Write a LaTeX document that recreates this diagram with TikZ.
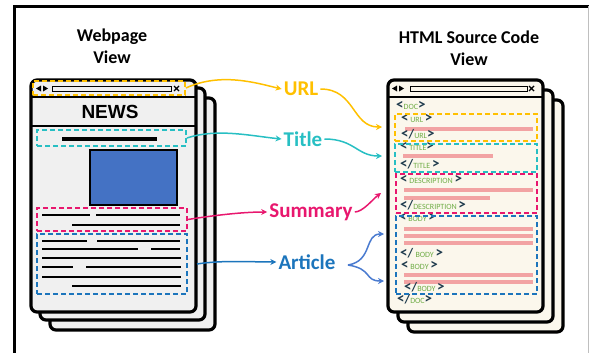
\documentclass[tikz,border=0pt]{standalone}
\usepackage{fontspec}
\setmainfont{Carlito}
\newfontfamily\newsfont{Liberation Sans}
\usetikzlibrary{arrows.meta}

\definecolor{urlgold}{HTML}{FFC000}
\definecolor{titleteal}{HTML}{27BFC3}
\definecolor{sumpink}{HTML}{E8176E}
\definecolor{artblue}{HTML}{1C75BC}
\definecolor{branchblue}{HTML}{4A7BD0}
\definecolor{imgblue}{HTML}{4472C4}
\definecolor{pagegrey}{HTML}{F0F0F0}
\definecolor{codecream}{HTML}{FBF7EC}
\definecolor{codebar}{HTML}{F2A3A3}
\definecolor{tagdark}{HTML}{1F3B4D}
\definecolor{taggreen}{HTML}{70AD47}

% pieces of a source-code tag
\newcommand{\chevL}{{\fontsize{15}{15}\selectfont\bfseries\color{tagdark}<}}
\newcommand{\chevR}{{\fontsize{15}{15}\selectfont\bfseries\color{tagdark}>}}
\newcommand{\chevS}{{\fontsize{13}{13}\selectfont\bfseries\color{tagdark}/}}
\newcommand{\tagname}[1]{{\fontsize{8}{8}\selectfont\color{taggreen}#1}}

\begin{document}
\begin{tikzpicture}[x=1pt, y=-1pt]
    \tikzstyle{page} = [draw=black, line width=3.2, rounded corners=6, fill=pagegrey, minimum width=165, minimum height=232]
    \tikzstyle{codepage} = [page, fill=codecream, minimum width=155]
    \tikzstyle{frame} = [draw, dash pattern=on 5pt off 3pt, line width=1.8, inner sep=0]
    \tikzstyle{heading} = [align=center, font=\fontsize{18}{22}\selectfont\bfseries]
    \tikzstyle{field} = [font=\fontsize{21}{21}\selectfont\bfseries, inner sep=2]
    \tikzstyle{tag} = [anchor=west, inner sep=0, text height=4.5, text depth=0.5]
    \tikzstyle{link} = [line width=1.5, -{Stealth[length=6pt, width=6pt]}]
    \tikzstyle{codeline} = [codebar, line width=4]

    \useasboundingbox (0,0) rectangle (589,353);

    % outer frame
    \draw[line width=3.5] (14.5,353) -- (14.5,6.5) -- (589,6.5);
    \draw[gray!50, line width=1] (588,6.5) -- (588,353);

    \node [heading] (webhead) at (112,46) {Webpage\\View};
    \node [heading] (codehead) at (469,48) {HTML Source Code\\View};

    % webpage stack
    \node [page] (webpage3) at (132.5,214) {};
    \node [page] (webpage2) at (122.5,204) {};
    \node [page] (webpage) at (113.5,196) {};

    \fill (36,88.5) -- (41,85.5) -- (41,91.5) -- cycle;
    \fill (48,88.5) -- (43,85.5) -- (43,91.5) -- cycle;
    \draw[line width=0.8] (52,86) rectangle (171,91.5);
    \draw[line width=1.4] (174,86) -- (179,91) (174,91) -- (179,86);
    \draw[line width=2.5] (31,97) -- (196,97);

    \node [font=\newsfont\fontsize{19}{19}\selectfont\bfseries] (news) at (110,111.5) {NEWS};
    \draw[line width=2.5] (31,126) -- (196,126);

    \draw[line width=4] (62,138.5) -- (157,138.5);
    \draw[fill=imgblue, line width=2] (90,150) rectangle (177,205);

    \draw[line width=2.5] (42,215) -- (90,215) (96,215) -- (180,215) (72,225) -- (180,225);
    \draw[line width=1.2] (42,241) -- (87,241) (97,241) -- (180,241)
        (42,249) -- (138,249) (151,249) -- (180,249)
        (42,258) -- (181,258)
        (42,267) -- (73,267) (86,267) -- (181,267)
        (42,277) -- (181,277)
        (72,286) -- (181,286);

    \node [frame, urlgold, minimum width=152, minimum height=14] (urlbox) at (109,88) {};
    \node [frame, titleteal, minimum width=149, minimum height=16] (titlebox) at (111.5,138) {};
    \node [frame, sumpink, minimum width=150, minimum height=23] (sumbox) at (112,219.5) {};
    \node [frame, artblue, minimum width=150, minimum height=60] (artbox) at (112,264) {};

    % source code stack
    \node [codepage] (codepage3) at (485.5,216) {};
    \node [codepage] (codepage2) at (475.5,206) {};
    \node [codepage] (codepage) at (465.5,196) {};

    \fill (392,88.5) -- (397,85.5) -- (397,91.5) -- cycle;
    \fill (404,88.5) -- (399,85.5) -- (399,91.5) -- cycle;
    \draw[line width=0.8] (410,86) rectangle (527,91.5);
    \draw[line width=1.4] (529,86) -- (534,91) (529,91) -- (534,86);
    \draw[line width=2.5] (388,97) -- (543,97);

    \node [tag] (docopen) at (396,108) {\chevL\tagname{DOC}\chevR};
    \node [tag] (urlopen) at (401,120) {\chevL\,\tagname{URL}\,\chevR};
    \draw[codeline] (405,128.5) -- (533,128.5);
    \node [tag] (urlclose) at (401,136) {\chevL\chevS\tagname{URL}\chevR};
    \node [tag] (titleopen) at (400,148) {\chevL\,\tagname{TITLE}\chevR};
    \draw[codeline] (403,156) -- (493,156);
    \node [tag] (titleclose) at (400,166) {\chevL\chevS\tagname{TITLE}\,\chevR};
    \node [tag] (descopen) at (400,181) {\chevL\,\tagname{DESCRIPTION}\,\chevR};
    \draw[codeline] (404,190) -- (533,190) (404,198) -- (490,198);
    \node [tag] (descclose) at (400,207) {\chevL\chevS\tagname{DESCRIPTION}\,\chevR};
    \node [tag] (bodyopen) at (399,219) {\chevL\,\tagname{BODY}\,\chevR};
    \draw[codeline] (404,229) -- (533,229) (404,236) -- (533,236) (404,243) -- (533,243);
    \node [tag] (bodyclose) at (400,255) {\chevL\chevS\ \tagname{BODY}\,\chevR};
    \node [tag] (bodyopen2) at (401,267) {\chevL\,\tagname{BODY}\,\chevR};
    \draw[codeline] (404,275) -- (533,275) (404,282) -- (533,282);
    \node [tag] (bodyclose2) at (404,289) {\chevL\chevS\tagname{BODY}\,\chevR};
    \node [tag] (docclose) at (397,301) {\chevL\chevS\tagname{DOC}\chevR};

    \node [frame, urlgold, minimum width=142, minimum height=27] (codeurl) at (466,127.5) {};
    \node [frame, titleteal, minimum width=142, minimum height=28] (codetitle) at (466,158) {};
    \node [frame, sumpink, minimum width=141, minimum height=39] (codedesc) at (466.5,193.5) {};
    \node [frame, artblue, minimum width=141, minimum height=78] (codebody) at (466.5,255) {};

    % field names and links
    \node [field, urlgold] (url) at (301,89) {URL};
    \node [field, titleteal] (title) at (303,139) {Title};
    \node [field, sumpink] (summary) at (311,212) {Summary};
    \node [field, artblue] (article) at (307,262) {Article};

    \coordinate (urlin) at (382,127);
    \coordinate (titlein) at (382,156);
    \coordinate (descin) at (381,193);
    \coordinate (bodyina) at (384,234);
    \coordinate (bodyinb) at (384,281);
    \coordinate (artout) at (197,264);
    \coordinate (artsplit) at (348,265);

    \draw[link, urlgold] (urlbox.east) .. controls +(35,-16) and +(-25,-6) .. (url.west);
    \draw[link, urlgold] (url.east) .. controls +(35,0) and +(-30,0) .. (urlin);
    \draw[link, titleteal] (titlebox.east) .. controls +(30,-10) and +(-30,-3) .. (title.west);
    \draw[link, titleteal] (title.east) .. controls +(30,0) and +(-25,0) .. (titlein);
    \draw[link, sumpink] (sumbox.east) .. controls +(25,-4) and +(-25,0) .. (summary.west);
    \draw[link, sumpink] (summary.east) .. controls +(8,0) and +(-8,6) .. (descin);
    \draw[link, artblue] (artout) .. controls +(25,-4) and +(-25,0) .. (article.west);
    \draw[link, branchblue] (artsplit) .. controls +(25,-4) and +(-20,0) .. (bodyina);
    \draw[link, branchblue] (artsplit) .. controls +(25,4) and +(-20,0) .. (bodyinb);
\end{tikzpicture}
\end{document}
